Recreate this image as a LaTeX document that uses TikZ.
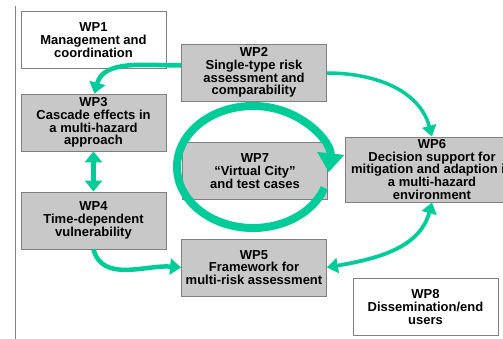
\documentclass[tikz,border=0pt]{standalone}
\usepackage{fontspec}
\setmainfont{Liberation Sans}
\usetikzlibrary{arrows.meta}
\definecolor{teal1}{RGB}{0,204,153}
\definecolor{boxgray}{RGB}{200,200,200}
\definecolor{boxline}{RGB}{128,128,128}
\newcommand{\wpfont}{\fontsize{13}{12.8}\selectfont\bfseries}
\tikzset{
  wpbox/.style={draw=boxline, fill=boxgray, line width=0.8pt, minimum width=145pt,
    minimum height=57pt, inner sep=0pt, align=center, font=\wpfont},
  wpwhite/.style={wpbox, fill=white},
  flow/.style={draw=teal1, line width=4.5pt, -{Triangle[width=16pt,length=11pt]}},
  flowthin/.style={draw=teal1, line width=3.5pt, -{Triangle[width=14pt,length=11pt]}},
  flowboth/.style={draw=teal1, line width=5pt, {Triangle[width=17pt,length=11pt]}-{Triangle[width=17pt,length=11pt]}},
  flowboththin/.style={draw=teal1, line width=3.8pt, {Triangle[width=15pt,length=11pt]}-{Triangle[width=15pt,length=11pt]}},
}
\begin{document}
\begin{tikzpicture}[x=1pt,y=-1pt]
\useasboundingbox (0,0) rectangle (503,339);
\fill[white] (0,0) rectangle (503,339);
\coordinate (vtop) at (15.5,6);
\coordinate (vbot) at (15.5,339);
\draw[boxline, line width=0.8pt] (vtop) -- (vbot);

\node[wpwhite] (wp1) at (93.5,40) {WP1\\Management and\\coordination};
\node[wpbox] (wp2) at (254,72.5) {WP2\\Single-type risk\\assessment and\\comparability};
\node[wpbox] (wp3) at (93.5,122.5) {WP3\\Cascade effects in\\a multi-hazard\\approach};
\node[wpbox] (wp4) at (93.5,220.5) {WP4\\Time-dependent\\vulnerability};
\node[wpbox] (wp7) at (255,171) {WP7\\``Virtual City''\\and test cases};
\node[wpbox, minimum width=174pt, minimum height=65pt] (wp6) at (432,169.5) {WP6\\Decision support for\\mitigation and adaption in\\a multi-hazard\\environment};
\node[wpbox] (wp5) at (254,267.5) {WP5\\Framework for\\multi-risk assessment};
\node[wpwhite] (wp8) at (425.5,307) {WP8\\Dissemination/end\\users};

% big cycle around WP7
\coordinate (cyc) at (253,167);
\draw[draw=teal1, line width=8pt, -{Triangle[width=26pt,length=19pt]}]
  ([shift={(20:76 and 61)}]cyc) arc[start angle=20, end angle=365, x radius=76, y radius=61];

\draw[flow] ([yshift=7pt]wp2.west) to[out=180, in=75] ([xshift=1pt]wp3.north);
\draw[flowthin] ([yshift=-0.5pt]wp2.east) to[out=0, in=105] (wp6.north);
\draw[flowboth] (wp3.south) -- (wp4.north);
\draw[flow] (wp4.south) to[out=-75, in=175] (wp5.west);
\draw[flowboththin] (wp5.east) to[out=10, in=-105] (wp6.south);
\end{tikzpicture}
\end{document}
